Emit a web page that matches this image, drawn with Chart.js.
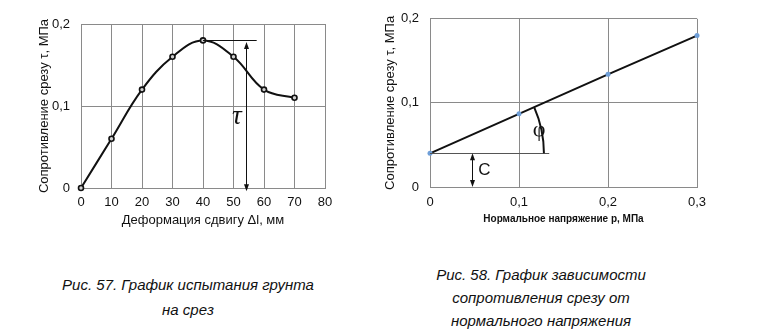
<!DOCTYPE html>
<html><head><meta charset="utf-8">
<script src="https://cdn.jsdelivr.net/npm/chart.js@4/dist/chart.umd.min.js"></script>
<style>
html,body{margin:0;padding:0;background:#fff;width:757px;height:336px;overflow:hidden;position:relative;font-family:"Liberation Sans",Arial,sans-serif}
.box{position:absolute;top:0;height:240px}
.cap{position:absolute;font-style:italic;font-size:15px;text-align:center;color:#111;white-space:nowrap}
</style></head><body>
<div class="box" style="left:0;width:370px"><canvas id="c1" width="370" height="240"></canvas></div>
<div class="box" style="left:370px;width:387px"><canvas id="c2" width="387" height="240"></canvas></div>
<div class="cap" style="left:38px;width:300px;top:272px;line-height:25px">Рис. 57. График испытания грунта<br>на срез</div>
<div class="cap" style="left:391px;width:300px;top:263px;line-height:23px">Рис. 58. График зависимости<br>сопротивления срезу от<br>нормального напряжения</div>
<script>
// ---- data (chart 1) ----
const deformation = [0, 10, 20, 30, 40, 50, 60, 70];
const resistance1 = [0, 0.06, 0.12, 0.16, 0.18, 0.16, 0.12, 0.11];
const xTicks1 = [0, 10, 20, 30, 40, 50, 60, 70, 80];
const yTicks = [0, 0.1, 0.2];
// ---- data (chart 2) ----
const normalStress = [0, 0.1, 0.2, 0.3];
const resistance2 = [0.04, 0.087, 0.134, 0.18];
const xTicks2 = [0, 0.1, 0.2, 0.3];
// ---- annotation values (data units) ----
const peakLine = [[40, 0.18], [57.6, 0.18]];
const tauArrow = [54, 0.178, -0.004];
const tauLabel = [51.1, 0.087];
const cohesionLine = [[0, 0.04], [0.134, 0.04]];
const cArrow = [0.047, 0.04, 0];
const cLabel = [0.061, 0.02];
const phiRadius = 0.128;
const phiLabel = [0.1225, 0.067];

const fmt = v => String(+(+v).toFixed(2)).replace('.', ',');
const GRID = '#8a8a8a';
const tickFont = {family: '"Liberation Sans", Arial, sans-serif', size: 13};

function arrowHead(ctx, x, y, dir) {
  ctx.beginPath();
  ctx.moveTo(x, y);
  ctx.lineTo(x - 2.5, y - dir * 7);
  ctx.lineTo(x + 2.5, y - dir * 7);
  ctx.closePath();
  ctx.fill();
}
function dblArrow(ctx, xs, ys, a) {
  const x = Math.round(xs.getPixelForValue(a[0])) + 0.5;
  const y1 = ys.getPixelForValue(a[1]);
  const y2 = ys.getPixelForValue(a[2]);
  ctx.beginPath(); ctx.moveTo(x, y1 + 5); ctx.lineTo(x, y2 - 5); ctx.stroke();
  arrowHead(ctx, x, y1, -1);
  arrowHead(ctx, x, y2, 1);
}

function makeScales(xmin, xmax, xstep, xTitle, xTitleFont, xTitlePad, yTitlePad, yWidth, xHeight, xTickPad) {
  return {
    x: {
      type: 'linear', min: xmin, max: xmax,
      ticks: {stepSize: xstep, color: '#111', font: tickFont, padding: xTickPad, callback: fmt, maxRotation: 0, autoSkip: false},
      grid: {color: GRID, lineWidth: 1, drawTicks: false},
      border: {color: GRID, width: 1},
      title: {display: true, text: xTitle, color: '#111', font: xTitleFont, padding: {top: 0, bottom: xTitlePad}},
      afterFit: s => { s.height = xHeight; }
    },
    y: {
      type: 'linear', min: 0, max: 0.2,
      ticks: {stepSize: 0.1, color: '#111', font: tickFont, padding: 11, callback: fmt},
      grid: {color: GRID, lineWidth: 1, drawTicks: false},
      border: {color: GRID, width: 1},
      title: {display: true, text: 'Сопротивление срезу τ, МПа', color: '#111', font: {family: '"Liberation Sans", Arial, sans-serif', size: 13}, padding: {top: yTitlePad, bottom: 0}},
      afterFit: s => { s.width = yWidth; }
    }
  };
}

const anno1 = {
  id: 'anno1',
  afterDatasetsDraw(chart) {
    const {ctx, scales: {x, y}} = chart;
    ctx.save();
    ctx.strokeStyle = '#111'; ctx.fillStyle = '#111'; ctx.lineWidth = 1;
    const py = Math.round(y.getPixelForValue(peakLine[0][1])) + 0.5;
    ctx.beginPath();
    ctx.moveTo(x.getPixelForValue(peakLine[0][0]), py);
    ctx.lineTo(x.getPixelForValue(peakLine[1][0]), py);
    ctx.stroke();
    dblArrow(ctx, x, y, tauArrow);
    ctx.font = 'italic 27px "Liberation Serif", "DejaVu Serif", serif';
    ctx.textAlign = 'center'; ctx.textBaseline = 'middle';
    ctx.fillText('τ', x.getPixelForValue(tauLabel[0]), y.getPixelForValue(tauLabel[1]));
    ctx.restore();
  }
};

const anno2 = {
  id: 'anno2',
  afterDatasetsDraw(chart) {
    const {ctx, scales: {x, y}} = chart;
    ctx.save();
    ctx.strokeStyle = '#555'; ctx.fillStyle = '#111'; ctx.lineWidth = 1;
    const py = Math.round(y.getPixelForValue(cohesionLine[0][1])) + 0.5;
    ctx.beginPath();
    ctx.moveTo(x.getPixelForValue(cohesionLine[0][0]), py);
    ctx.lineTo(x.getPixelForValue(cohesionLine[1][0]), py);
    ctx.stroke();
    ctx.strokeStyle = '#111';
    dblArrow(ctx, x, y, cArrow);
    const cx = x.getPixelForValue(normalStress[0]);
    const cy = y.getPixelForValue(resistance2[0]);
    const ex = x.getPixelForValue(normalStress[3]);
    const ey = y.getPixelForValue(resistance2[3]);
    const ang = Math.atan2(ey - cy, ex - cx);
    const r = x.getPixelForValue(phiRadius) - x.getPixelForValue(0);
    ctx.lineWidth = 2;
    ctx.beginPath();
    ctx.arc(cx, cy, r, ang, 0);
    ctx.stroke();
    ctx.font = '22px "Liberation Serif", "DejaVu Serif", serif';
    ctx.textAlign = 'center'; ctx.textBaseline = 'middle';
    ctx.fillText('φ', x.getPixelForValue(phiLabel[0]), y.getPixelForValue(phiLabel[1]));
    ctx.font = '17px "Liberation Sans", Arial, sans-serif';
    ctx.fillText('C', x.getPixelForValue(cLabel[0]), y.getPixelForValue(cLabel[1]));
    ctx.restore();
  }
};

new Chart(document.getElementById('c1'), {
  type: 'line',
  data: {
    datasets: [{
      data: deformation.map((d, i) => ({x: d, y: resistance1[i]})),
      borderColor: '#111', borderWidth: 2,
      tension: 0.4,
      pointRadius: 2.5, pointBorderWidth: 1.6, pointBackgroundColor: '#d0d0d0', pointBorderColor: '#111',
      clip: false
    }]
  },
  options: {
    responsive: false, animation: false, devicePixelRatio: 1,
    layout: {padding: {top: 24, right: 45, left: 0, bottom: 0}},
    plugins: {legend: {display: false}, tooltip: {enabled: false}},
    scales: makeScales(0, 80, 10, 'Деформация сдвигу Δl, мм', {family: '"Liberation Sans", Arial, sans-serif', size: 13}, 11.5, 37, 81, 52, 7)
  },
  plugins: [anno1]
});

new Chart(document.getElementById('c2'), {
  type: 'line',
  data: {
    datasets: [{
      data: normalStress.map((d, i) => ({x: d, y: resistance2[i]})),
      borderColor: '#111', borderWidth: 2, tension: 0,
      pointRadius: 2.5, pointBorderWidth: 0, pointBackgroundColor: '#6f9fd8',
      clip: false
    }]
  },
  options: {
    responsive: false, animation: false, devicePixelRatio: 1,
    layout: {padding: {top: 17, right: 60, left: 0, bottom: 0}},
    plugins: {legend: {display: false}, tooltip: {enabled: false}},
    scales: makeScales(0, 0.3, 0.1, 'Нормальное напряжение р, МПа', {family: '"Liberation Sans", Arial, sans-serif', size: 10, weight: 'bold'}, 14.7, 13, 60, 53, 7.5)
  },
  plugins: [anno2]
});
</script>
</body></html>
